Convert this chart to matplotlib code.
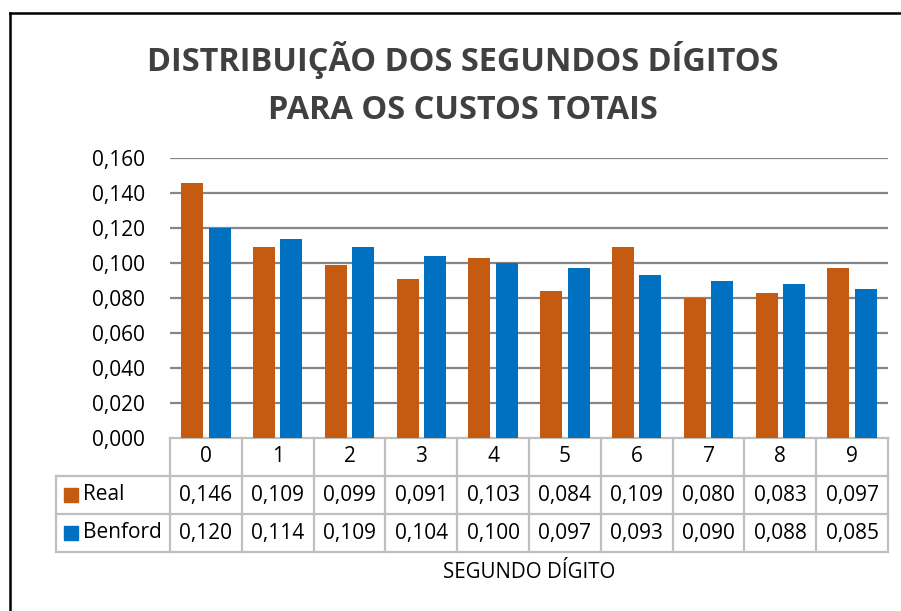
import matplotlib
matplotlib.use("Agg")
import matplotlib.pyplot as plt
from matplotlib.lines import Line2D
from matplotlib.patches import Rectangle
from matplotlib.transforms import blended_transform_factory

plt.rcParams['font.family'] = ['Open Sans', 'DejaVu Sans']

# data
digits = ['0', '1', '2', '3', '4', '5', '6', '7', '8', '9']
real = [0.146, 0.109, 0.099, 0.091, 0.103, 0.084, 0.109, 0.080, 0.083, 0.097]
benford = [0.120, 0.114, 0.109, 0.104, 0.100, 0.097, 0.093, 0.090, 0.088, 0.085]
series_names = ['Real', 'Benford']
yticks = [0.0, 0.02, 0.04, 0.06, 0.08, 0.10, 0.12, 0.14, 0.16]

c_real = '#C55A11'
c_benf = '#0070C0'
grid_c = '#868686'
tab_c = '#BFBFBF'

W, H = 901, 611
fig = plt.figure(figsize=(W / 100, H / 100), dpi=100)

def fx(px):
    return px / W

def fy(py):
    return 1 - py / H

# outer frame (cut at right/bottom like the screenshot)
fig.add_artist(Line2D([fx(10), fx(10)], [fy(13), 0], color='black', lw=1.8))
fig.add_artist(Line2D([fx(10), 1], [fy(13), fy(13)], color='black', lw=1.8))

# title
fig.text(fx(463), fy(60), 'DISTRIBUIÇÃO DOS SEGUNDOS DÍGITOS', ha='center', va='center',
         fontsize=23.4, fontweight='bold', color='#404040')
fig.text(fx(463), fy(110), 'PARA OS CUSTOS TOTAIS', ha='center', va='center',
         fontsize=23.4, fontweight='bold', color='#404040')

ax_l, ax_r, ax_t, ax_b = 170, 888, 158, 438
ax = fig.add_axes([fx(ax_l), fy(ax_b), fx(ax_r - ax_l), (ax_b - ax_t) / H])

x = list(range(len(digits)))
bw = 0.306
off = 0.19
ax.bar([i - off for i in x], real, width=bw, color=c_real, zorder=3)
ax.bar([i + off for i in x], benford, width=bw, color=c_benf, zorder=3)

ax.set_xlim(-0.5, len(digits) - 0.5)
ax.set_ylim(0, 0.16)
ax.set_yticks(yticks)
ax.set_yticklabels([f'{v:.3f}'.replace('.', ',') for v in yticks])
ax.tick_params(axis='y', length=0, pad=18, labelsize=15, colors='#000000')
ax.set_xticks([])
for g in yticks[1:]:
    ax.axhline(g, color=grid_c, lw=1.6, zorder=1)
for s in ax.spines.values():
    s.set_visible(False)

# data table below the axes
tr = blended_transform_factory(ax.transData, ax.transAxes)
row_h = 38 / (ax_b - ax_t)
left_x = -0.5 - (ax_l - 56) / ((ax_r - ax_l) / len(digits))
n = len(digits)
y0 = 0
y1 = -row_h
y2 = -2 * row_h
y3 = -3 * row_h

def hline(xa, xb, yv):
    ax.add_line(Line2D([xa, xb], [yv, yv], transform=tr, color=tab_c, lw=1.6, clip_on=False))

def vline(xv, ya, yb):
    ax.add_line(Line2D([xv, xv], [ya, yb], transform=tr, color=tab_c, lw=1.6, clip_on=False))

hline(-0.5, n - 0.5, y0)
for yv in (y1, y2, y3):
    hline(left_x, n - 0.5, yv)
vline(left_x, y1, y3)
for i in range(n + 1):
    vline(i - 0.5, y0, y3)

fs = 15
for i, d in enumerate(digits):
    ax.text(i, (y0 + y1) / 2, d, transform=tr, ha='center', va='center', fontsize=fs)
    ax.text(i, (y1 + y2) / 2, f'{real[i]:.3f}'.replace('.', ','), transform=tr,
            ha='center', va='center', fontsize=fs)
    ax.text(i, (y2 + y3) / 2, f'{benford[i]:.3f}'.replace('.', ','), transform=tr,
            ha='center', va='center', fontsize=fs)

unit = (ax_r - ax_l) / n
for name, col, (ya, yb) in zip(series_names, [c_real, c_benf], [(y1, y2), (y2, y3)]):
    ym = (ya + yb) / 2
    sq = 14 / (ax_b - ax_t)
    ax.add_patch(Rectangle((left_x + 8 / unit, ym - sq / 2), 14 / unit, sq, transform=tr,
                           color=col, clip_on=False))
    ax.text(left_x + 27 / unit, ym, name, transform=tr, ha='left', va='center', fontsize=fs)

fig.text(fx(529), fy(573), 'SEGUNDO DÍGITO', ha='center', va='center', fontsize=14.8)

fig.savefig('out.png', dpi=100)
